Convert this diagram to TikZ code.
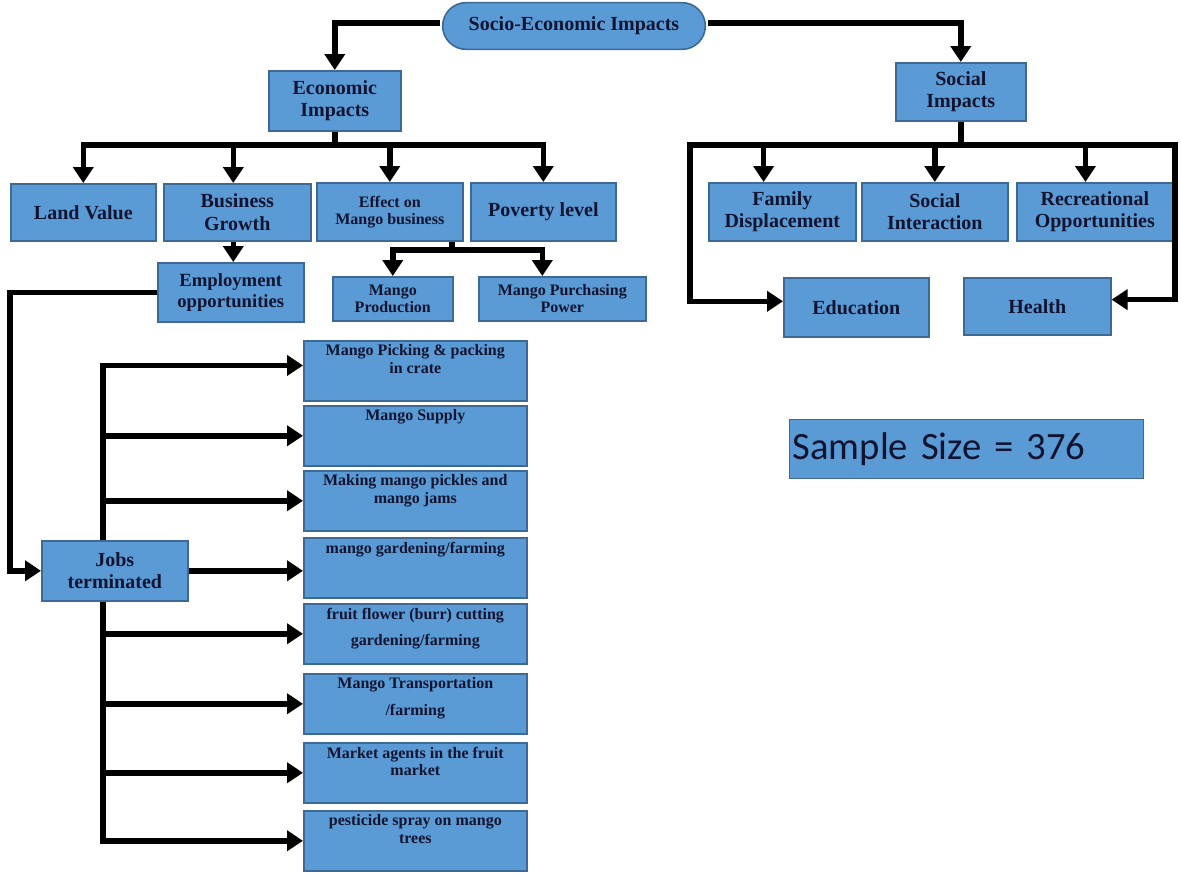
\documentclass[tikz,border=0pt]{standalone}
\usepackage{fontspec}
\setmainfont{Liberation Serif}
\newfontfamily\calfont{Carlito}
\usetikzlibrary{arrows.meta,shapes.misc}

\definecolor{boxfill}{RGB}{91,155,213}
\definecolor{boxline}{RGB}{62,105,148}
\definecolor{boxtext}{RGB}{16,20,48}

\tikzset{every picture/.style={line width=0.75pt}}
\tikzset{
  box/.style={draw=boxline, fill=boxfill, line width=1.2pt, text=boxtext, align=center, anchor=north west, inner sep=2pt, font=\bfseries\fontsize{15}{17}\selectfont},
  smallbox/.style={box, font=\bfseries\fontsize{12}{13}\selectfont},
  jobbox/.style={smallbox, inner sep=3pt, minimum width=167.25pt},
  link/.style={line width=4.2pt},
  arr/.style={link, -{Triangle[length=12pt,width=15pt]}},
}
\newcommand{\toptext}[1]{\parbox[c][39pt][t]{160pt}{\centering #1}}

\begin{document}
\begin{tikzpicture}[x=0.75pt,y=0.75pt,yscale=-1,xscale=1]
\useasboundingbox [fill=white] (0,0) rectangle (1181,872);

% Top node
\node [box, rounded rectangle, anchor=center, minimum width=201pt, minimum height=35pt, font=\bfseries\fontsize{15}{17}\selectfont] (root) at (574,26) {Socio-Economic Impacts};

% Economic side
\node [box, minimum width=99pt, minimum height=45pt] (econ) at (268,70) {Economic\\Impacts};
\node [box, minimum width=108.75pt, minimum height=42.75pt] (land) at (10,183) {Land Value};
\node [box, minimum width=110.25pt, minimum height=42.75pt] (busgrowth) at (163,183) {Business\\Growth};
\node [smallbox, minimum width=109.5pt, minimum height=43.5pt] (effect) at (316,182) {Effect on\\Mango business};
\node [box, minimum width=108.75pt, minimum height=43.5pt] (poverty) at (470,182) {Poverty level};
\node [smallbox, font=\bfseries\fontsize{14}{16}\selectfont, minimum width=109.5pt, minimum height=44.25pt] (emp) at (157,262) {Employment\\opportunities};
\node [smallbox, minimum width=90pt, minimum height=33pt] (mprod) at (332,276) {Mango\\Production};
\node [smallbox, minimum width=125.25pt, minimum height=33pt] (mpurch) at (478,276) {Mango Purchasing\\Power};

% Jobs
\node [box, minimum width=109.5pt, minimum height=45pt] (jobs) at (41,540) {Jobs\\terminated};
\node [jobbox] (pick) at (303,340) {\toptext{Mango Picking \& packing\\in crate}};
\node [jobbox] (supply) at (303,405) {\toptext{Mango Supply}};
\node [jobbox] (pickle) at (303,470) {\toptext{Making mango pickles and\\mango jams}};
\node [jobbox] (garden) at (303,537) {\toptext{mango gardening/farming}};
\node [jobbox] (fflower) at (303,603) {\toptext{fruit flower (burr) cutting\\[7pt]gardening/farming}};
\node [jobbox] (transport) at (303,673) {\toptext{Mango Transportation\\[7pt]/farming}};
\node [jobbox] (agents) at (303,742) {\toptext{Market agents in the fruit\\market}};
\node [jobbox] (spray) at (303,810) {\toptext{pesticide spray on mango\\trees}};

% Social side
\node [box, minimum width=97.5pt, minimum height=43.5pt] (social) at (895,62) {Social\\Impacts};
\node [box, minimum width=110.25pt, minimum height=43.5pt] (family) at (708,182) {Family\\Displacement};
\node [box, minimum width=109.5pt, minimum height=43.5pt] (sinter) at (861,182) {Social\\Interaction};
\node [box, minimum width=117pt, minimum height=43.5pt] (recre) at (1016,182) {Recreational\\Opportunities};
\node [box, minimum width=108.75pt, minimum height=44.25pt] (edu) at (783,277) {Education};
\node [box, minimum width=110.25pt, minimum height=42.75pt] (health) at (963,277) {Health};

% Sample size
\node [draw=boxline, fill=boxfill, line width=1pt, anchor=north west, inner sep=2pt, minimum width=265.5pt, minimum height=44.25pt, text width=261pt, align=left, text=boxtext, font=\calfont\fontsize{29}{31}\selectfont] (sample) at (789,419) {Sample Size = 376};

% Connectors from top
\coordinate (rootl) at (440,23);
\coordinate (rootr) at (708,23);
\draw [arr] (rootl) -| (econ.north);
\draw [arr] (rootr) -| (social.north);

% Economic bus
\coordinate (ebus) at (0,145);
\draw [link] (econ.south) -- (econ.south |- ebus);
\draw [arr] (econ.south |- ebus) -| (land.north);
\draw [arr] (econ.south |- ebus) -| ([xshift=-3pt]busgrowth.north);
\draw [arr] (econ.south |- ebus) -| (effect.north);
\draw [arr] (econ.south |- ebus) -| (poverty.north);
\draw [arr] ([xshift=-3pt]busgrowth.south) -- ([xshift=-3pt]busgrowth.south |- emp.north);

% Mango business bus
\coordinate (mbus) at (452,250);
\draw [link] (effect.south -| mbus) -- (mbus);
\draw [arr] (mbus) -| (mprod.north);
\draw [arr] (mbus) -| ([xshift=-15pt]mpurch.north);

% Employment to jobs
\coordinate (eleft) at (10,288);
\draw [arr] (emp.west) -- (emp.west -| eleft) |- (jobs.west);

% Jobs trunk
\coordinate (jtrunk) at (103,0);
\draw [arr] (jobs.north -| jtrunk) |- ([yshift=-4pt]pick.west);
\draw [arr] (jtrunk |- supply.west) -- (supply.west);
\draw [arr] (jtrunk |- pickle.west) -- (pickle.west);
\draw [arr] (jobs.east) -- (jobs.east -| garden.west);
\draw [arr] (jtrunk |- fflower.west) -- (fflower.west);
\draw [arr] (jtrunk |- transport.west) -- (transport.west);
\draw [arr] (jtrunk |- agents.west) -- (agents.west);
\draw [arr] (jobs.south -| jtrunk) |- (spray.west);

% Social bus
\coordinate (sleft) at (690,145);
\coordinate (sright) at (1175,145);
\draw [link] (social.south) -- (social.south |- sleft);
\draw [arr] (social.south |- sleft) -| ([xshift=-14pt]family.north);
\draw [arr] (social.south |- sleft) -| (sinter.north);
\draw [arr] (social.south |- sleft) -| ([xshift=-7pt]recre.north);
\draw [arr] (social.south |- sleft) -- (sleft) |- ([yshift=-4.5pt]edu.west);
\draw [arr] (social.south |- sleft) -- (sright) |- ([yshift=-5pt]health.east);

\end{tikzpicture}
\end{document}
